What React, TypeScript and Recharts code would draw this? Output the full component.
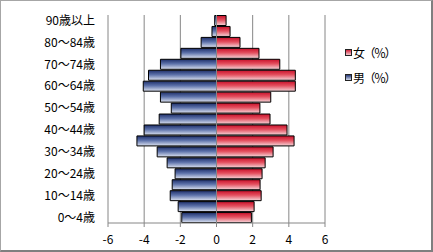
import { BarChart, Bar, XAxis, YAxis, CartesianGrid, ReferenceLine, Legend } from "recharts";

const ageGroups = [
  "0～4歳", "5～9歳", "10～14歳", "15～19歳", "20～24歳", "25～29歳", "30～34歳",
  "35～39歳", "40～44歳", "45～49歳", "50～54歳", "55～59歳", "60～64歳", "65～69歳",
  "70～74歳", "75～79歳", "80～84歳", "85～89歳", "90歳以上",
];

// 男（％）
const malePct = [
  1.92, 2.12, 2.56, 2.45, 2.29, 2.73, 3.28, 4.4, 4.0, 3.17,
  2.5, 3.1, 4.05, 3.76, 3.1, 1.97, 0.85, 0.25, 0.1,
];

// 女（％）
const femalePct = [
  1.93, 2.08, 2.47, 2.41, 2.52, 2.69, 3.13, 4.29, 3.9, 2.96,
  2.4, 3.0, 4.36, 4.36, 3.5, 2.35, 1.3, 0.75, 0.53,
];

const xTicks = [-6, -4, -2, 0, 2, 4, 6];

const seriesNames = { female: "女（％）", male: "男（％）" };

const data = ageGroups.map((age, i) => ({
  age,
  male: -malePct[i],
  female: femalePct[i],
}));

const FONT = '"Noto Sans CJK JP", "Noto Sans", sans-serif';
const GRID = "#868686";

function PyramidLegend() {
  const items = [
    { name: seriesNames.female, from: "#d2233a", to: "#f3c9cf" },
    { name: seriesNames.male, from: "#26397a", to: "#cfd7ea" },
  ];
  return (
    <div style={{ fontFamily: FONT, fontSize: 12, color: "#000" }}>
      {items.map((it) => (
        <div key={it.name} style={{ display: "flex", alignItems: "center", height: 25 }}>
          <span
            style={{
              display: "inline-block",
              width: 5,
              height: 5,
              border: "1px solid #222",
              background: `linear-gradient(${it.from}, ${it.to})`,
              marginRight: 1,
            }}
          />
          <span style={{ letterSpacing: -1.5 }}>{it.name}</span>
        </div>
      ))}
    </div>
  );
}

export default function App() {
  return (
    <div style={{ position: "absolute", left: 0, top: 0, width: 433, height: 252, background: "#fff" }}>
      <BarChart
        width={433}
        height={252}
        data={data}
        layout="vertical"
        stackOffset="sign"
        margin={{ top: 15, right: 108, bottom: 0, left: 0 }}
        barCategoryGap={0.5}
      >
        <defs>
          <linearGradient id="maleFill" x1="0" y1="0" x2="0" y2="1">
            <stop offset="0%" stopColor="#1e2f6a" />
            <stop offset="45%" stopColor="#5d72aa" />
            <stop offset="100%" stopColor="#dde3f1" />
          </linearGradient>
          <linearGradient id="femaleFill" x1="0" y1="0" x2="0" y2="1">
            <stop offset="0%" stopColor="#c8102a" />
            <stop offset="45%" stopColor="#e4505f" />
            <stop offset="100%" stopColor="#f6d6da" />
          </linearGradient>
        </defs>
        <CartesianGrid horizontal={false} stroke={GRID} strokeWidth={1} />
        <XAxis
          type="number"
          domain={[-6, 6]}
          ticks={xTicks}
          interval={0}
          height={29}
          axisLine={{ stroke: GRID }}
          tickLine={{ stroke: GRID }}
          tickSize={4}
          tickMargin={8}
          tick={{ fontSize: 12, fill: "#000", fontFamily: FONT }}
        />
        <YAxis
          type="category"
          dataKey="age"
          reversed
          interval={1}
          width={108}
          axisLine={false}
          tickLine={false}
          tickSize={0}
          tickMargin={13}
          tick={{ fontSize: 12, fill: "#000", fontFamily: FONT }}
        />
        <Legend
          layout="horizontal"
          verticalAlign="middle"
          align="center"
          wrapperStyle={{ left: 345, top: 40, width: 70, height: 50 }}
          content={() => <PyramidLegend />}
        />
        <Bar
          dataKey="male"
          name={seriesNames.male}
          stackId="pop"
          fill="url(#maleFill)"
          stroke="#000"
          strokeWidth={1}
          isAnimationActive={false}
        />
        <Bar
          dataKey="female"
          name={seriesNames.female}
          stackId="pop"
          fill="url(#femaleFill)"
          stroke="#000"
          strokeWidth={1}
          isAnimationActive={false}
        />
        <ReferenceLine x={0} stroke={GRID} strokeWidth={1} />
      </BarChart>
      <div
        style={{
          position: "absolute",
          left: 0,
          top: 0,
          width: 433,
          height: 252,
          boxSizing: "border-box",
          borderTop: "1px solid #a6a6a6",
          borderLeft: "1px solid #a6a6a6",
          borderRight: "2px solid #7f7f7f",
          borderBottom: "2px solid #7f7f7f",
          pointerEvents: "none",
        }}
      />
    </div>
  );
}
